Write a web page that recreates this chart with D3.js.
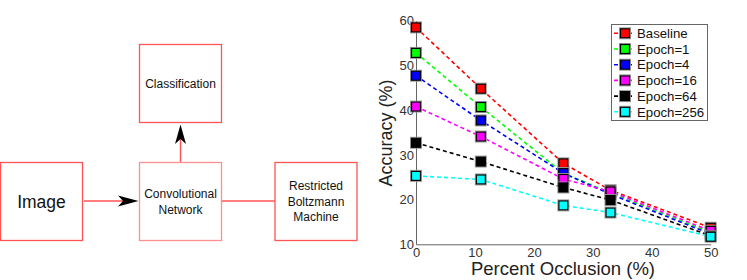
<!DOCTYPE html>
<html>
<head>
<meta charset="utf-8">
<script src="https://cdn.jsdelivr.net/npm/d3@7"></script>
<style>
  body { margin: 0; background: #fff; }
  svg { display: block; font-family: "Liberation Sans", Arial, sans-serif; }
</style>
</head>
<body>
<svg id="fig" width="747" height="280"></svg>
<script>
// chart data
let occlusion = [0, 11, 25, 33, 50]
let seriesNames = ["Baseline", "Epoch=1", "Epoch=4", "Epoch=16", "Epoch=64", "Epoch=256"]
let seriesColors = ["#ff0000", "#00ff00", "#0000ff", "#ff00ff", "#000000", "#00ffff"]
let baseline = [58.5, 44.8, 28.1, 22.1, 13.7]
let epoch1 = [52.8, 40.7, 25.9, 21.5, 12.6]
let epoch4 = [47.7, 37.7, 25.9, 21.2, 12.3]
let epoch16 = [40.8, 34.1, 24.6, 21.8, 13.0]
let epoch64 = [32.7, 28.5, 22.7, 19.9, 11.9]
let epoch256 = [25.3, 24.5, 18.7, 17.1, 11.7]
let xTicks = [0, 10, 20, 30, 40, 50]
let yTicks = [10, 20, 30, 40, 50, 60]

let allSeries = [baseline, epoch1, epoch4, epoch16, epoch64, epoch256]

let svg = d3.select("#fig")

// ---- block diagram on the left ----
let boxRed = "#ff5555"
let boxes = [
  {x: 139.5, y: 44.5, w: 82, h: 78, lines: ["Classification"], size: 12, stroke: boxRed},
  {x: 0.5, y: 162.5, w: 82, h: 78, lines: ["Image"], size: 17.5, stroke: boxRed},
  {x: 139.5, y: 162.5, w: 82, h: 78, lines: ["Convolutional", "Network"], size: 12, stroke: "#ff8f8f"},
  {x: 275, y: 162.5, w: 82, h: 78, lines: ["Restricted", "Boltzmann", "Machine"], size: 12, stroke: boxRed}
]

let diag = svg.append("g")

// connectors
diag.append("line").attr("x1", 84).attr("y1", 201).attr("x2", 130).attr("y2", 201)
  .attr("stroke", boxRed).attr("stroke-width", 1.5)
diag.append("line").attr("x1", 221.5).attr("y1", 201).attr("x2", 275).attr("y2", 201)
  .attr("stroke", boxRed).attr("stroke-width", 1.5)
diag.append("line").attr("x1", 180.5).attr("y1", 162.5).attr("x2", 180.5).attr("y2", 134)
  .attr("stroke", boxRed).attr("stroke-width", 1.5)

// arrow heads
diag.append("path")
  .attr("d", "M138.5,201 L118,195.5 L123,201 L118,206.5 Z")
  .attr("fill", "#000")
diag.append("path")
  .attr("d", "M180.5,124.5 L175,144 L180.5,139 L186,144 Z")
  .attr("fill", "#000")

let bg = diag.selectAll("g.box").data(boxes).enter().append("g").attr("class", "box")
bg.append("rect")
  .attr("x", d => d.x).attr("y", d => d.y)
  .attr("width", d => d.w).attr("height", d => d.h)
  .attr("fill", "none").attr("stroke", d => d.stroke).attr("stroke-width", 1.3)
bg.each(function(d) {
  let g = d3.select(this)
  let lh = d.size * 1.28
  let cy = d.y + d.h / 2 - (d.lines.length - 1) * lh / 2
  d.lines.forEach((t, i) => {
    g.append("text")
      .attr("x", d.x + d.w / 2).attr("y", cy + i * lh)
      .attr("dy", "0.36em")
      .attr("text-anchor", "middle")
      .attr("font-size", d.size)
      .attr("fill", "#111")
      .text(t)
  })
})

// ---- line chart on the right ----
let x = d3.scaleLinear().domain([0, 50]).range([416, 710.7])
let y = d3.scaleLinear().domain([10, 60]).range([244.3, 20.7])

let axisColor = "#666"

let gx = svg.append("g")
  .attr("transform", "translate(0," + y(10) + ")")
  .call(d3.axisBottom(x).tickValues(xTicks).tickSize(0).tickPadding(3))
gx.select(".domain").attr("stroke", axisColor)
gx.selectAll("text").attr("font-size", 13).attr("fill", "#333").attr("font-family", "Liberation Sans, Arial, sans-serif")

let gy = svg.append("g")
  .attr("transform", "translate(" + x(0) + ",0)")
  .call(d3.axisLeft(y).tickValues(yTicks).tickSize(0).tickPadding(2))
gy.select(".domain").attr("stroke", axisColor)
gy.selectAll("text").attr("font-size", 13).attr("fill", "#333").attr("font-family", "Liberation Sans, Arial, sans-serif")

svg.append("text")
  .attr("x", 563).attr("y", 275)
  .attr("text-anchor", "middle")
  .attr("font-size", 18.5)
  .attr("fill", "#222")
  .text("Percent Occlusion (%)")

svg.append("text")
  .attr("transform", "translate(392,133) rotate(-90)")
  .attr("text-anchor", "middle")
  .attr("font-size", 18)
  .attr("fill", "#222")
  .text("Accuracy (%)")

let line = d3.line()
  .x((d, i) => x(occlusion[i]))
  .y(d => y(d))

function marker(g, cx, cy, color) {
  g.append("rect")
    .attr("x", cx - 5.5).attr("y", cy - 5.5).attr("width", 11).attr("height", 11)
    .attr("fill", "none").attr("stroke", "#999").attr("stroke-width", 1)
  g.append("rect")
    .attr("x", cx - 4.5).attr("y", cy - 4.5).attr("width", 9).attr("height", 9)
    .attr("fill", color).attr("stroke", "#000").attr("stroke-width", 1.2)
}

// series plotted in order, later ones on top
allSeries.forEach((vals, s) => {
  let col = seriesColors[s]
  svg.append("path")
    .datum(vals)
    .attr("d", line)
    .attr("fill", "none")
    .attr("stroke", col)
    .attr("stroke-width", 1.6)
    .attr("stroke-dasharray", "4,3")
  let mg = svg.append("g")
  vals.forEach((v, i) => marker(mg, x(occlusion[i]), y(v), col))
})

// legend
let legend = svg.append("g")
legend.append("rect")
  .attr("x", 611.5).attr("y", 24.5).attr("width", 96).attr("height", 96)
  .attr("fill", "#fff").attr("stroke", "#666").attr("stroke-width", 1)

seriesNames.forEach((name, i) => {
  let ly = 33.3 + i * 15.7
  legend.append("line")
    .attr("x1", 614).attr("x2", 635).attr("y1", ly).attr("y2", ly)
    .attr("stroke", seriesColors[i]).attr("stroke-width", 1.6)
    .attr("stroke-dasharray", "4,3")
  marker(legend, 625, ly, seriesColors[i])
  legend.append("text")
    .attr("x", 637).attr("y", ly).attr("dy", "0.36em")
    .attr("font-size", 13.2)
    .attr("fill", "#111")
    .text(name)
})
</script>
</body>
</html>
